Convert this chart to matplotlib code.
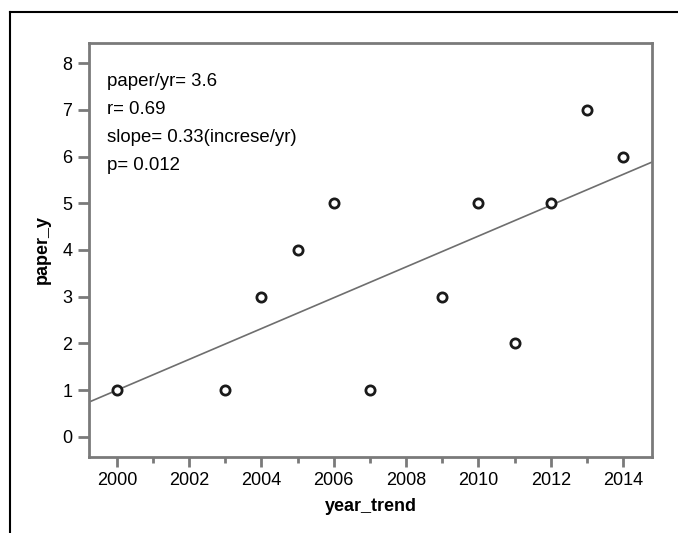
import numpy as np
import matplotlib.pyplot as plt
from matplotlib.lines import Line2D

years = [2000, 2003, 2004, 2005, 2006, 2007, 2009, 2010, 2011, 2012, 2013, 2014]
papers = [1, 1, 3, 4, 5, 1, 3, 5, 2, 5, 7, 6]
notes = ["paper/yr= 3.6", "r= 0.69", "slope= 0.33(increse/yr)", "p= 0.012"]

plt.rcParams['font.family'] = ['Liberation Sans', 'DejaVu Sans']
plt.rcParams['font.size'] = 13

fig = plt.figure(figsize=(6.78, 5.33), dpi=100)
ax = fig.add_axes([89 / 678, 76 / 533, 563 / 678, 414 / 533])

gray = '#7a7a7a'
xlim = (1999.23, 2014.8)
ax.set_xlim(xlim)
ax.set_ylim(-0.43, 8.43)

# fit line
k, b = np.polyfit(years, papers, 1)
xs = np.array(xlim)
ax.plot(xs, k * xs + b, color='#6e6e6e', lw=1.2, zorder=1)

ax.scatter(years, papers, s=44, facecolors='white', edgecolors='#1a1a1a',
           linewidths=2, zorder=3)

# annotation block, positions in pixels from top-left
for i, t in enumerate(notes):
    ax.text(107, 533 - (82 + 28 * i), t, transform=None, va='center',
            ha='left', fontsize=13.4)

ax.set_xticks(range(2000, 2015, 2))
ax.set_xticks(range(2001, 2015, 2), minor=True)
ax.set_yticks(range(0, 9))
for s in ax.spines.values():
    s.set_color(gray)
    s.set_linewidth(2)
ax.tick_params(axis='both', which='major', color=gray, width=2, length=7, pad=4)
ax.tick_params(axis='x', which='minor', color=gray, width=2, length=4)
ax.tick_params(axis='y', which='major', length=8)

ax.set_xlabel('year_trend', fontweight='bold', labelpad=6)
ax.set_ylabel('paper_y', fontweight='bold', labelpad=8)

# outer frame
fig.add_artist(Line2D([10 / 678, 10 / 678], [0, 1 - 12 / 533], color='black', lw=1.5))
fig.add_artist(Line2D([10 / 678, 1], [1 - 12 / 533, 1 - 12 / 533], color='black', lw=1.5))

fig.savefig('out.png', dpi=100)
